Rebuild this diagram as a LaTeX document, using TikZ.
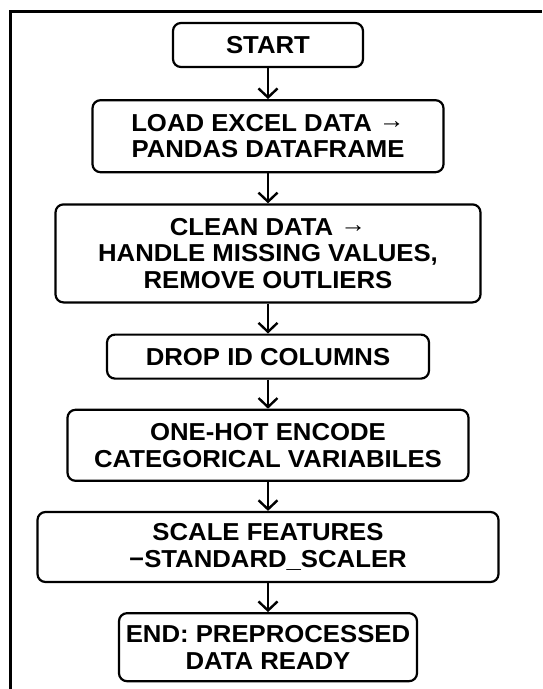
\documentclass[tikz,border=0pt]{standalone}
\usepackage{fontspec}
\setmainfont[FakeStretch=1.05]{Liberation Sans}
\usepackage{tikz}
\usetikzlibrary{positioning,arrows.meta}
\newcommand{\rarr}{\raisebox{0.12em}{→}}

\begin{document}
\begin{tikzpicture}[x=1pt,y=1pt,
    box/.style={draw,rounded corners=8pt,line width=2.2pt,align=center,
        font=\bfseries\fontsize{24.5}{26.7}\selectfont},
    arr/.style={line width=2.4pt,-{Straight Barb[length=9pt,width=19pt]}}]
    \useasboundingbox (0,0) rectangle (542,-689);
    \draw[line width=2.5pt] (10.5,-689) -- (10.5,-11.5) -- (542,-11.5);

    \node[box,minimum width=190pt,minimum height=44pt] (start) at (268,-45) {START};
    \node[box,minimum width=351pt,minimum height=72pt,below=31pt of start] (load)
        {LOAD EXCEL DATA \rarr\\PANDAS DATAFRAME};
    \node[box,minimum width=425pt,minimum height=98pt,below=30pt of load] (clean)
        {CLEAN DATA \rarr\\HANDLE MISSING VALUES,\\REMOVE OUTLIERS};
    \node[box,minimum width=322pt,minimum height=44pt,below=30pt of clean] (drop)
        {DROP ID COLUMNS};
    \node[box,minimum width=401pt,minimum height=71pt,below=29pt of drop] (onehot)
        {ONE-HOT ENCODE\\CATEGORICAL VARIABILES};
    \node[box,minimum width=461pt,minimum height=70pt,below=29pt of onehot] (scale)
        {SCALE FEATURES\\−STANDARD\_SCALER};
    \node[box,minimum width=298pt,minimum height=68pt,below=29pt of scale] (end)
        {END: PREPROCESSED\\DATA READY};

    \draw[arr] (start) -- (load);
    \draw[arr] (load) -- (clean);
    \draw[arr] (clean) -- (drop);
    \draw[arr] (drop) -- (onehot);
    \draw[arr] (onehot) -- (scale);
    \draw[arr] (scale) -- (end);
\end{tikzpicture}
\end{document}
